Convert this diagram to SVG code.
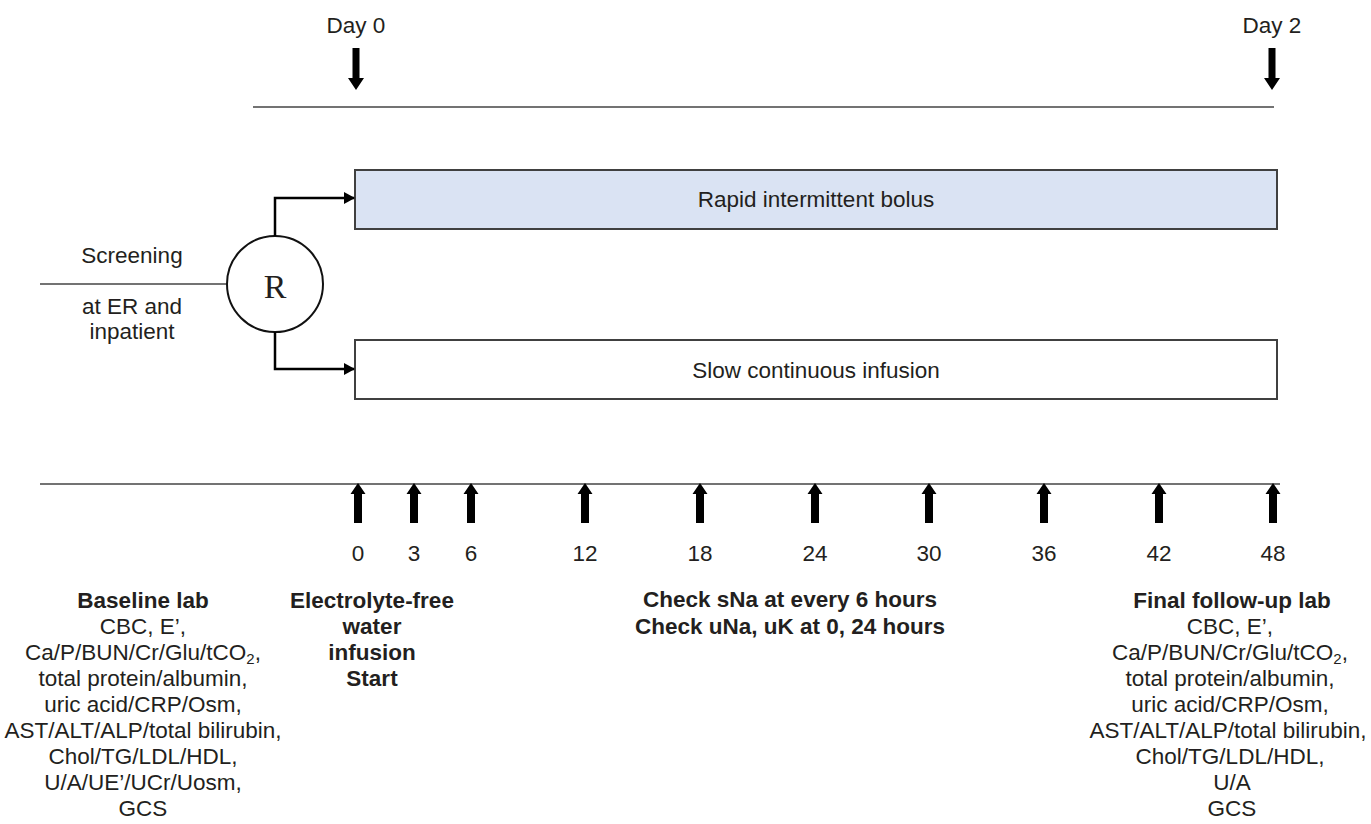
<svg xmlns="http://www.w3.org/2000/svg" width="1371" height="824" viewBox="0 0 1371 824">
<defs>
<style>
text{font-family:"Liberation Sans",Arial,sans-serif;font-size:22.5px;fill:#231f20;text-anchor:middle}
.b{font-weight:bold}
.r{font-family:"Liberation Serif","Times New Roman",serif;font-size:34px}
.ln{stroke:#444;stroke-width:1.5;fill:none}
.box{stroke:#404040;stroke-width:2}
.con{stroke:#000;stroke-width:2.5;fill:none}
.ar{fill:#000}
</style>
<marker id="ah" markerWidth="11" markerHeight="12" refX="10" refY="6" orient="auto" markerUnits="userSpaceOnUse">
<path d="M0,0 L11,6 L0,12 Z" fill="#000"/>
</marker>
<path id="down" d="M-3.5,0 H3.5 V30 H8 L0,42 L-8,30 H-3.5 Z"/>
<path id="up" d="M-4,40 H4 V11 H7.5 L0,0 L-7.5,11 H-4 Z"/>
</defs>
<g id="top-timeline">
<text x="356" y="33">Day 0</text>
<text x="1272" y="33">Day 2</text>
<use href="#down" x="356" y="48" class="ar"/>
<use href="#down" x="1272" y="48" class="ar"/>
<line class="ln" x1="253" y1="107" x2="1274" y2="107"/>
</g>
<g id="screening">
<line class="ln" x1="40" y1="284" x2="227" y2="284"/>
<text x="132" y="263">Screening</text>
<text x="132" y="314">at ER and</text>
<text x="132" y="339">inpatient</text>
</g>
<g id="R">
<circle cx="275" cy="284" r="48" fill="#fff" stroke="#111" stroke-width="2"/>
<text class="r" x="275" y="298">R</text>
</g>
<g id="bolus">
<rect class="box" x="355" y="170" width="922" height="59" fill="#dae3f3"/>
<text x="816" y="207">Rapid intermittent bolus</text>
</g>
<g id="infusion">
<rect class="box" x="355" y="340" width="922" height="59" fill="#fff"/>
<text x="816" y="378">Slow continuous infusion</text>
</g>
<g id="connectors">
<path class="con" d="M275,236 V198 H354" marker-end="url(#ah)"/>
<path class="con" d="M275,332 V369 H354" marker-end="url(#ah)"/>
</g>
<g id="bottom-timeline">
<line class="ln" x1="40" y1="484" x2="1280" y2="484"/>
<use href="#up" x="358" y="483" class="ar"/>
<use href="#up" x="414" y="483" class="ar"/>
<use href="#up" x="471" y="483" class="ar"/>
<use href="#up" x="585" y="483" class="ar"/>
<use href="#up" x="700" y="483" class="ar"/>
<use href="#up" x="815" y="483" class="ar"/>
<use href="#up" x="929" y="483" class="ar"/>
<use href="#up" x="1044" y="483" class="ar"/>
<use href="#up" x="1159" y="483" class="ar"/>
<use href="#up" x="1273" y="483" class="ar"/>
<text x="358" y="561">0</text>
<text x="414" y="561">3</text>
<text x="471" y="561">6</text>
<text x="585" y="561">12</text>
<text x="700" y="561">18</text>
<text x="815" y="561">24</text>
<text x="929" y="561">30</text>
<text x="1044" y="561">36</text>
<text x="1159" y="561">42</text>
<text x="1273" y="561">48</text>
</g>
<g id="baseline-lab">
<text class="b" x="143" y="608">Baseline lab</text>
<text x="143" y="634">CBC, E’,</text>
<text x="143" y="660">Ca/P/BUN/Cr/Glu/tCO<tspan font-size="15" dy="4">2</tspan><tspan dy="-4">,</tspan></text>
<text x="143" y="686">total protein/albumin,</text>
<text x="143" y="712">uric acid/CRP/Osm,</text>
<text x="143" y="738">AST/ALT/ALP/total bilirubin,</text>
<text x="143" y="764">Chol/TG/LDL/HDL,</text>
<text x="143" y="790">U/A/UE’/UCr/Uosm,</text>
<text x="143" y="816">GCS</text>
</g>
<g id="water-infusion">
<text class="b" x="372" y="608">Electrolyte-free</text>
<text class="b" x="372" y="634">water</text>
<text class="b" x="372" y="660">infusion</text>
<text class="b" x="372" y="686">Start</text>
</g>
<g id="check-sna">
<text class="b" x="790" y="607">Check sNa at every 6 hours</text>
<text class="b" x="790" y="634">Check uNa, uK at 0, 24 hours</text>
</g>
<g id="final-lab">
<text class="b" x="1232" y="608">Final follow-up lab</text>
<text x="1230" y="634">CBC, E’,</text>
<text x="1230" y="660">Ca/P/BUN/Cr/Glu/tCO<tspan font-size="15" dy="4">2</tspan><tspan dy="-4">,</tspan></text>
<text x="1230" y="686">total protein/albumin,</text>
<text x="1230" y="712">uric acid/CRP/Osm,</text>
<text x="1228" y="738">AST/ALT/ALP/total bilirubin,</text>
<text x="1230" y="764">Chol/TG/LDL/HDL,</text>
<text x="1232" y="790">U/A</text>
<text x="1232" y="816">GCS</text>
</g>
</svg>
